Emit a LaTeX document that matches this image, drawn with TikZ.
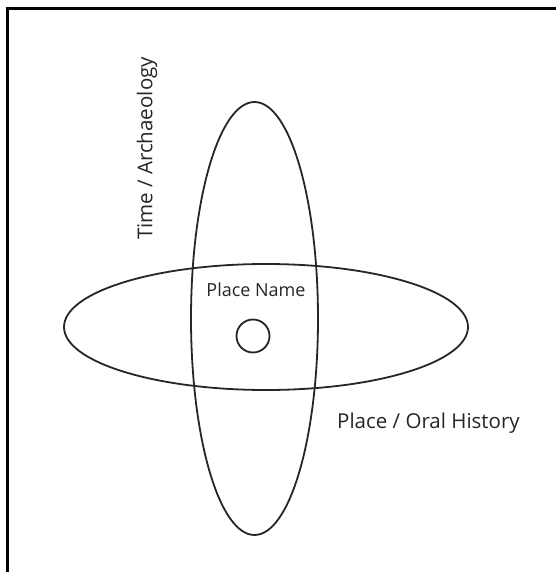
\documentclass[tikz,border=0pt]{standalone}
\usepackage{fontspec}
\setmainfont{Open Sans}
\usetikzlibrary{shapes.geometric}
\begin{document}
\begin{tikzpicture}[x=1pt,y=-1pt,
  shape line/.style={draw=black!85,line width=1.8pt},
  lbl/.style={inner sep=0pt,text=black!85},
  axis lbl/.style={lbl,font=\fontsize{20.5}{23}\selectfont},
  name lbl/.style={lbl,font=\fontsize{18}{20}\selectfont}]
\useasboundingbox (0,0) rectangle (556,572);
\fill[white] (0,0) rectangle (556,572);
\draw[line width=3pt] (7,572) coordinate (fb) -- (7,9) coordinate (fc) -- (556,9) coordinate (fr);
\node[shape line,ellipse,minimum width=127pt,minimum height=433pt,inner sep=0pt] (vert) at (254.5,318.5) {};
\node[shape line,ellipse,minimum width=404pt,minimum height=126pt,inner sep=0pt] (horiz) at (266,327) {};
\node[shape line,circle,minimum size=33pt,inner sep=0pt] (dot) at (253,336) {};
\node[name lbl] (pname) at (256,290) {Place Name};
\node[axis lbl,anchor=west] (oral) at (337,423) {Place / Oral History};
\node[axis lbl,rotate=90] (time) at (147,148.5) {Time / Archaeology};
\end{tikzpicture}
\end{document}
